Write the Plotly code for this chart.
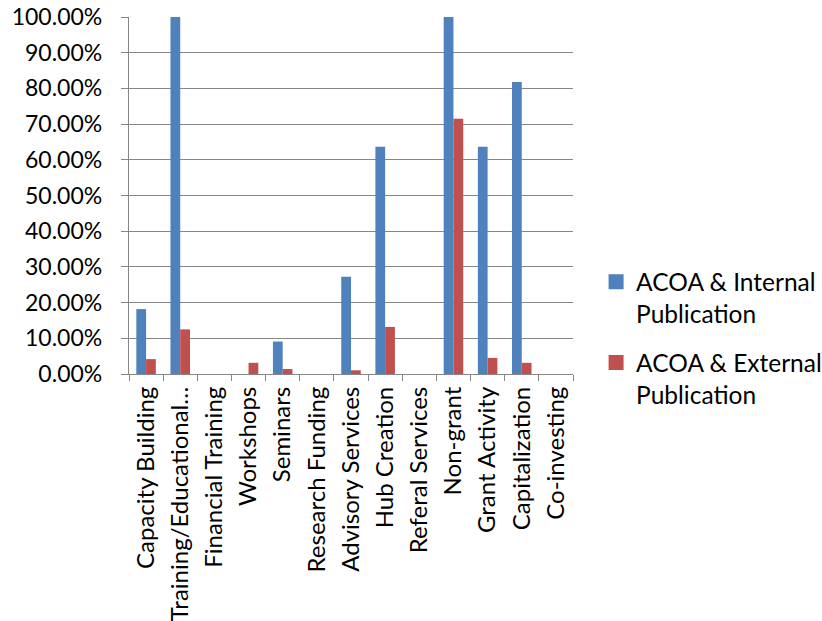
import plotly.graph_objects as go

categories = [
    "Capacity Building", "Training/Educational…", "Financial Training", "Workshops",
    "Seminars", "Research Funding", "Advisory Services", "Hub Creation",
    "Referal Services", "Non-grant", "Grant Activity", "Capitalization", "Co-investing",
]
internal_pub = [0.1818, 1.0, 0.0, 0.0, 0.0909, 0.0, 0.2727, 0.6364, 0.0, 1.0, 0.6364, 0.8182, 0.0]
external_pub = [0.0417, 0.125, 0.0, 0.0313, 0.0139, 0.0, 0.0104, 0.1319, 0.0, 0.7153, 0.0451, 0.0313, 0.0]

series = [
    ("ACOA & Internal<br>Publication", internal_pub, "#4F81BD", "internal"),
    ("ACOA & External<br>Publication", external_pub, "#C0504D", "external"),
]

FONT = "Lato"
GRID = "#868686"

fig = go.Figure()
for name, values, color, group in series:
    fig.add_trace(go.Bar(name=name, x=categories, y=values, legendgroup=group,
                         showlegend=False,
                         marker=dict(color=color, line=dict(width=0))))
# legend keys drawn as larger filled squares
for name, values, color, group in series:
    fig.add_trace(go.Scatter(name=name, x=[None], y=[None], mode="markers",
                             legendgroup=group, showlegend=True,
                             marker=dict(symbol="square", size=15, color=color)))

fig.update_layout(
    width=822, height=621, autosize=False,
    margin=dict(l=129, r=249, t=17, b=247, pad=0, autoexpand=False),
    paper_bgcolor="white", plot_bgcolor="white",
    barmode="group", bargap=0.4286, bargroupgap=0,
    font=dict(family=FONT, size=24, color="#000000"),
    showlegend=True,
    legend=dict(x=1.052, y=0.321, xanchor="left", yanchor="top", valign="top",
                font=dict(family=FONT, size=24.5, color="#000000"),
                tracegroupgap=14, bgcolor="rgba(0,0,0,0)", itemsizing="trace"),
)
fig.update_xaxes(
    type="category", range=[-0.5, 12.5], tickangle=-90, tickson="boundaries",
    ticks="outside", ticklen=6, tickcolor=GRID, tickwidth=1.3,
    showline=True, linecolor=GRID, linewidth=1.3, showgrid=False,
    tickfont=dict(family=FONT, size=24), automargin=False,
    ticklabelstandoff=2, ticklabeloverflow="allow",
)
fig.update_yaxes(
    range=[0, 1], dtick=0.1, tickformat=".2%",
    ticks="outside", ticklen=7, tickcolor=GRID, tickwidth=1.3,
    showline=True, linecolor=GRID, linewidth=1.3,
    showgrid=True, gridcolor=GRID, gridwidth=1.3, zeroline=False,
    tickfont=dict(family=FONT, size=23), automargin=False,
    ticklabelstandoff=14, ticklabeloverflow="allow",
)

fig.write_html("out.html")
